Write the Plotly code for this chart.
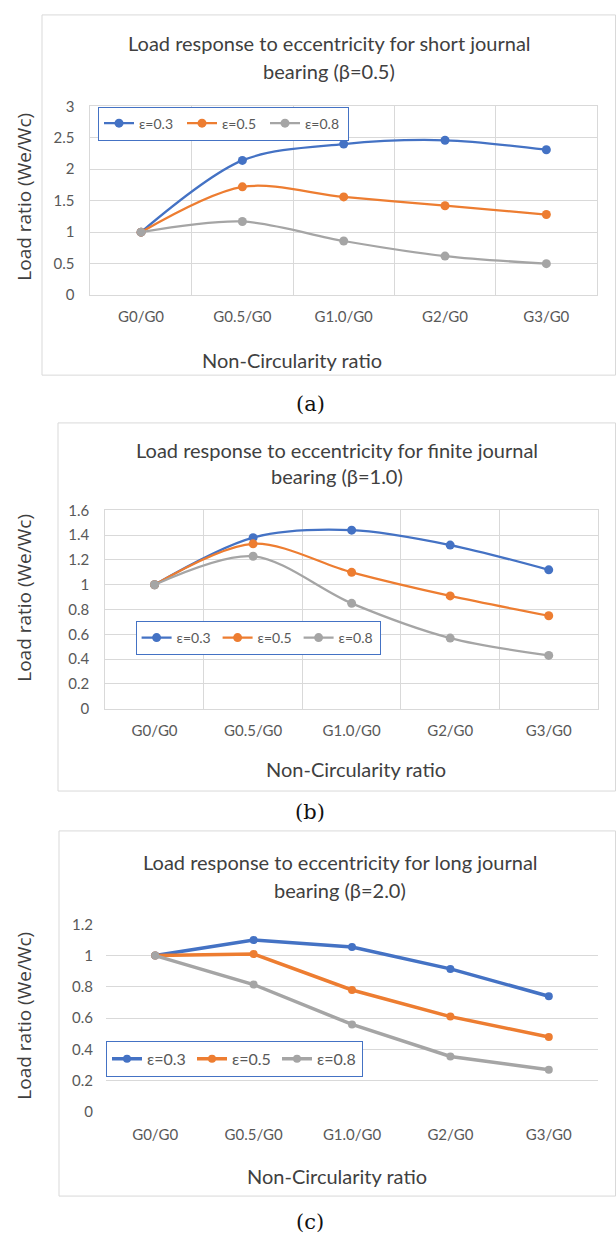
import plotly.graph_objects as go

W, H = 616, 1243

# ---------------- data ----------------
categories = ["G0/G0", "G0.5/G0", "G1.0/G0", "G2/G0", "G3/G0"]
series_names = ["ε=0.3", "ε=0.5", "ε=0.8"]

short_e03 = [1.00, 2.14, 2.40, 2.46, 2.31]
short_e05 = [1.00, 1.72, 1.56, 1.42, 1.28]
short_e08 = [1.00, 1.17, 0.86, 0.62, 0.50]

finite_e03 = [1.00, 1.38, 1.44, 1.32, 1.12]
finite_e05 = [1.00, 1.33, 1.10, 0.91, 0.75]
finite_e08 = [1.00, 1.23, 0.85, 0.57, 0.43]

long_e03 = [1.00, 1.10, 1.055, 0.915, 0.74]
long_e05 = [1.00, 1.01, 0.78, 0.61, 0.48]
long_e08 = [1.00, 0.815, 0.56, 0.355, 0.27]

yticks_a = [0, 0.5, 1, 1.5, 2, 2.5, 3]
yticks_a_text = ["0", "0.5", "1", "1.5", "2", "2.5", "3"]
yticks_b = [0, 0.2, 0.4, 0.6, 0.8, 1.0, 1.2, 1.4, 1.6]
yticks_b_text = ["0", "0.2", "0.4", "0.6", "0.8", "1", "1.2", "1.4", "1.6"]
yticks_c = [0, 0.2, 0.4, 0.6, 0.8, 1.0, 1.2]
yticks_c_text = ["0", "0.2", "0.4", "0.6", "0.8", "1", "1.2"]

titles = [
    ["Load response to eccentricity for short journal", "bearing (β=0.5)"],
    ["Load response to eccentricity for finite journal", "bearing (β=1.0)"],
    ["Load response to eccentricity for long journal", "bearing (β=2.0)"],
]
captions = ["(a)", "(b)", "(c)"]
x_title = "Non-Circularity ratio"
y_title = "Load ratio (We/Wc)"

colors = ["#4472C4", "#ED7D31", "#A5A5A5"]

# ---------------- layout specs (pixels) ----------------
panels = [
    dict(series=[short_e03, short_e05, short_e08], yt=yticks_a, ytt=yticks_a_text, yr=[0, 3],
         box=(42, 5, 615.5, 370.5), plot=(90.4, 97.7, 597, 289.3),
         title=(329, 33, 62), xtitle=(291.5, 355), ytitle=(24.4, 189),
         legend=(98, 98), legfont=14, legw=38, xstand=8,
         caption=(310, 400), smooth=True, vgrid=True, lw=2.25, ms=9),
    dict(series=[finite_e03, finite_e05, finite_e08], yt=yticks_b, ytt=yticks_b_text, yr=[0, 1.6],
         box=(58, 419, 615.5, 792.5), plot=(105.3, 507.7, 598, 709),
         title=(337, 446.7, 473.3), xtitle=(355.6, 770), ytitle=(24.4, 596),
         legend=(135.6, 620), legfont=14, legw=36, xstand=8,
         caption=(309.6, 814), smooth=True, vgrid=True, lw=2.25, ms=9),
    dict(series=[long_e03, long_e05, long_e08], yt=yticks_c, ytt=yticks_c_text, yr=[0, 1.2],
         box=(59, 833, 615.5, 1203.5), plot=(106, 927.7, 598, 1118.3),
         title=(340, 865, 893.3), xtitle=(336.7, 1183.3), ytitle=(24.4, 1020),
         legend=(106, 1046), legfont=16, legw=40, xstand=12,
         caption=(309.6, 1230), smooth=False, vgrid=False, lw=3.5, ms=8),
]


def px(x):
    return x / W


def py(y):
    return 1 - y / H


fig = go.Figure()
shapes = []
annotations = []
layout_extra = {}

TXT = "#404040"
TICK = "#595959"
GRID = "#D9D9D9"

for i, p in enumerate(panels):
    n = "" if i == 0 else str(i + 1)
    leg = "legend" if i == 0 else f"legend{i + 1}"
    for s, name, c in zip(p["series"], series_names, colors):
        fig.add_trace(go.Scatter(
            x=categories, y=s, name=name, mode="lines+markers",
            line=dict(color=c, width=p["lw"], shape="spline" if p["smooth"] else "linear", smoothing=0.9),
            marker=dict(color=c, size=p["ms"]),
            xaxis="x" + n, yaxis="y" + n, legend=leg,
        ))
    x0, y0, x1, y1 = p["plot"]
    layout_extra["xaxis" + n] = dict(
        domain=[px(x0), px(x1)], anchor="y" + n, type="category",
        range=[-0.5, 4.5], tickson="boundaries",
        showgrid=p["vgrid"], gridcolor=GRID, gridwidth=1,
        showline=p["vgrid"], mirror=p["vgrid"], linecolor=GRID, linewidth=1,
        ticks="", tickfont=dict(family="Lato", size=15, color=TICK),
        ticklabelstandoff=p["xstand"], fixedrange=True,
    )
    layout_extra["yaxis" + n] = dict(
        domain=[py(y1), py(y0)], anchor="x" + n, range=p["yr"],
        tickvals=p["yt"], ticktext=p["ytt"],
        showgrid=True, gridcolor=GRID, gridwidth=1, zeroline=False,
        showline=p["vgrid"], mirror=p["vgrid"], linecolor=GRID,
        ticks="", tickfont=dict(family="Lato", size=15, color=TICK),
        ticklabelstandoff=12, fixedrange=True,
    )
    lx, ly = p["legend"]
    layout_extra[leg] = dict(
        x=px(lx), y=py(ly), xanchor="left", yanchor="top", orientation="h",
        bgcolor="white", bordercolor="#4472C4", borderwidth=1,
        font=dict(family="Lato", size=p["legfont"], color=TICK), itemwidth=30,
        entrywidth=p["legw"], tracegroupgap=0,
    )
    bx0, by0, bx1, by1 = p["box"]
    shapes.append(dict(type="rect", xref="paper", yref="paper",
                       x0=px(bx0), x1=px(bx1), y0=py(by1), y1=py(by0),
                       line=dict(color="#D9D9D9", width=1), layer="below"))
    tx, t1, t2 = p["title"]
    for line, ty in zip(titles[i], (t1, t2)):
        annotations.append(dict(text=line, x=px(tx), y=py(ty), xref="paper", yref="paper",
                                xanchor="center", yanchor="middle", showarrow=False,
                                font=dict(family="Lato", size=20, color=TXT)))
    ax, ay = p["xtitle"]
    annotations.append(dict(text=x_title, x=px(ax), y=py(ay), xref="paper", yref="paper",
                            xanchor="center", yanchor="middle", showarrow=False,
                            font=dict(family="Lato", size=20, color=TXT)))
    ax, ay = p["ytitle"]
    annotations.append(dict(text=y_title, x=px(ax), y=py(ay), xref="paper", yref="paper",
                            xanchor="center", yanchor="middle", showarrow=False, textangle=-90,
                            font=dict(family="Open Sans", size=19, color=TXT)))
    cx, cy = p["caption"]
    annotations.append(dict(text=captions[i], x=px(cx), y=py(cy), xref="paper", yref="paper",
                            xanchor="center", yanchor="middle", showarrow=False,
                            font=dict(family="DejaVu Serif", size=21, color="#111111")))

fig.update_layout(
    width=W, height=H, margin=dict(l=0, r=0, t=0, b=0),
    paper_bgcolor="white", plot_bgcolor="white",
    shapes=shapes, annotations=annotations, showlegend=True,
    **layout_extra,
)

fig.write_html("out.html")
